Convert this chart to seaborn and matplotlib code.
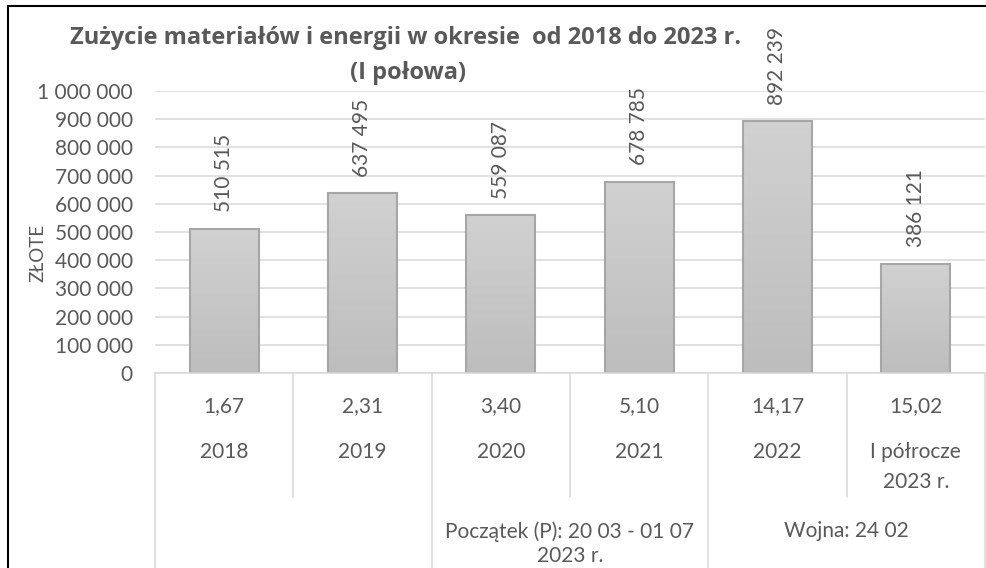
import numpy as np
import pandas as pd
import matplotlib
matplotlib.use("Agg")
import matplotlib.pyplot as plt
import seaborn as sns
from matplotlib.colors import LinearSegmentedColormap
from matplotlib.transforms import blended_transform_factory
from matplotlib.lines import Line2D
from matplotlib.patches import Rectangle
from matplotlib.ticker import FuncFormatter

# ---- data ----
categories = ["2018", "2019", "2020", "2021", "2022", "I półrocze\n2023 r."]
values = [510515, 637495, 559087, 678785, 892239, 386121]
ratios = ["1,67", "2,31", "3,40", "5,10", "14,17", "15,02"]
groups = ["", "Początek (P): 20 03 - 01 07\n2023 r.", "Wojna: 24 02"]
title_line1 = "Zużycie materiałów i energii w okresie  od 2018 do 2023 r."
title_line2 = "(I połowa)"
y_label = "ZŁOTE"
y_ticks = [0, 100000, 200000, 300000, 400000, 500000, 600000, 700000, 800000, 900000, 1000000]

sns.set_theme(style="white")
plt.rcParams["font.family"] = ["Lato", "DejaVu Sans"]

TXT = "#595959"
GRID = "#d9d9d9"
W, H = 986, 568
fig = plt.figure(figsize=(W / 100, H / 100), dpi=100)
fig.patch.set_facecolor("white")

left_px, right_px, bottom_px, top_px = 155, 985, 373, 91
ax = fig.add_axes([left_px / W, 1 - bottom_px / H, (right_px - left_px) / W, (bottom_px - top_px) / H])

df = pd.DataFrame({"cat": categories, "val": values})
sns.barplot(data=df, x="cat", y="val", color="#c8c8c8", width=0.5, edgecolor="#a6a6a6",
            linewidth=1.5, ax=ax, zorder=2)

# gradient fill inside bars
cmap = LinearSegmentedColormap.from_list("g", ["#bdbdbd", "#d1d1d1"])
grad = np.linspace(0, 1, 256).reshape(-1, 1)
for p in ax.patches:
    x0, y0 = p.get_x(), p.get_y()
    w, h = p.get_width(), p.get_height()
    im = ax.imshow(grad, extent=[x0, x0 + w, y0, y0 + h], origin="lower", aspect="auto",
                   cmap=cmap, zorder=1.5, interpolation="bilinear")
    im.set_clip_path(p)
    p.set_facecolor("none")

ax.set_xlim(-0.5, len(categories) - 0.5)
ax.set_ylim(0, 1000000)
ax.set_yticks(y_ticks)
ax.yaxis.set_major_formatter(FuncFormatter(lambda v, _: f"{int(v):,}".replace(",", " ")))
ax.tick_params(axis="y", length=0, pad=16, labelsize=15, labelcolor=TXT)
ax.set_xticks([])
ax.set_xlabel("")
ax.set_ylabel(y_label, fontsize=13.5, color=TXT)
ax.yaxis.set_label_coords((46 - left_px) / (right_px - left_px), (bottom_px - 253) / (bottom_px - top_px))
ax.set_axisbelow(True)
ax.grid(axis="y", color=GRID, linewidth=1.1)
ax.grid(axis="x", visible=False)
for s in ["left", "right", "top"]:
    ax.spines[s].set_visible(False)
ax.spines["bottom"].set_color(GRID)
ax.spines["bottom"].set_linewidth(1.1)

# data labels
ax.bar_label(ax.containers[0], labels=[f"{v:,}".replace(",", " ") for v in values],
             padding=12, rotation=90, fontsize=15, color=TXT, clip_on=False)

# category table below
tr = blended_transform_factory(ax.transData, fig.transFigure)
for i, (r, c) in enumerate(zip(ratios, categories)):
    ax.text(i, 1 - 406 / H, r, transform=tr, ha="center", va="center", fontsize=15, color=TXT)
    ax.text(i, 1 - 442 / H, c, transform=tr, ha="center", va="top", fontsize=15, color=TXT,
            linespacing=1.6)
for g, lab in enumerate(groups):
    ax.text(2 * g + 0.5, 1 - 521 / H, lab, transform=tr, ha="center", va="top", fontsize=15,
            color=TXT, linespacing=1.3)

for b in np.arange(-0.5, len(categories), 1.0):
    k = int(round(b + 0.5))
    y_end = 1 - 497 / H if k % 2 == 1 else -0.05
    ax.add_line(Line2D([b, b], [1 - bottom_px / H, y_end], transform=tr, color=GRID,
                       linewidth=1.1, clip_on=False))

# title
fig.text(406 / W, 1 - 38 / H, title_line1, ha="center", va="center", fontsize=17,
         fontweight="bold", color=TXT, family=["Open Sans", "DejaVu Sans"])
fig.text(408 / W, 1 - 73 / H, title_line2, ha="center", va="center", fontsize=17,
         fontweight="bold", color=TXT, family=["Open Sans", "DejaVu Sans"])

# outer chart border
fig.patches.append(Rectangle((8 / W, -0.1), 1.2, 1 - 6 / H + 0.1, transform=fig.transFigure,
                             fill=False, edgecolor="black", linewidth=1.5, zorder=10))

fig.savefig("out.png", dpi=100)
